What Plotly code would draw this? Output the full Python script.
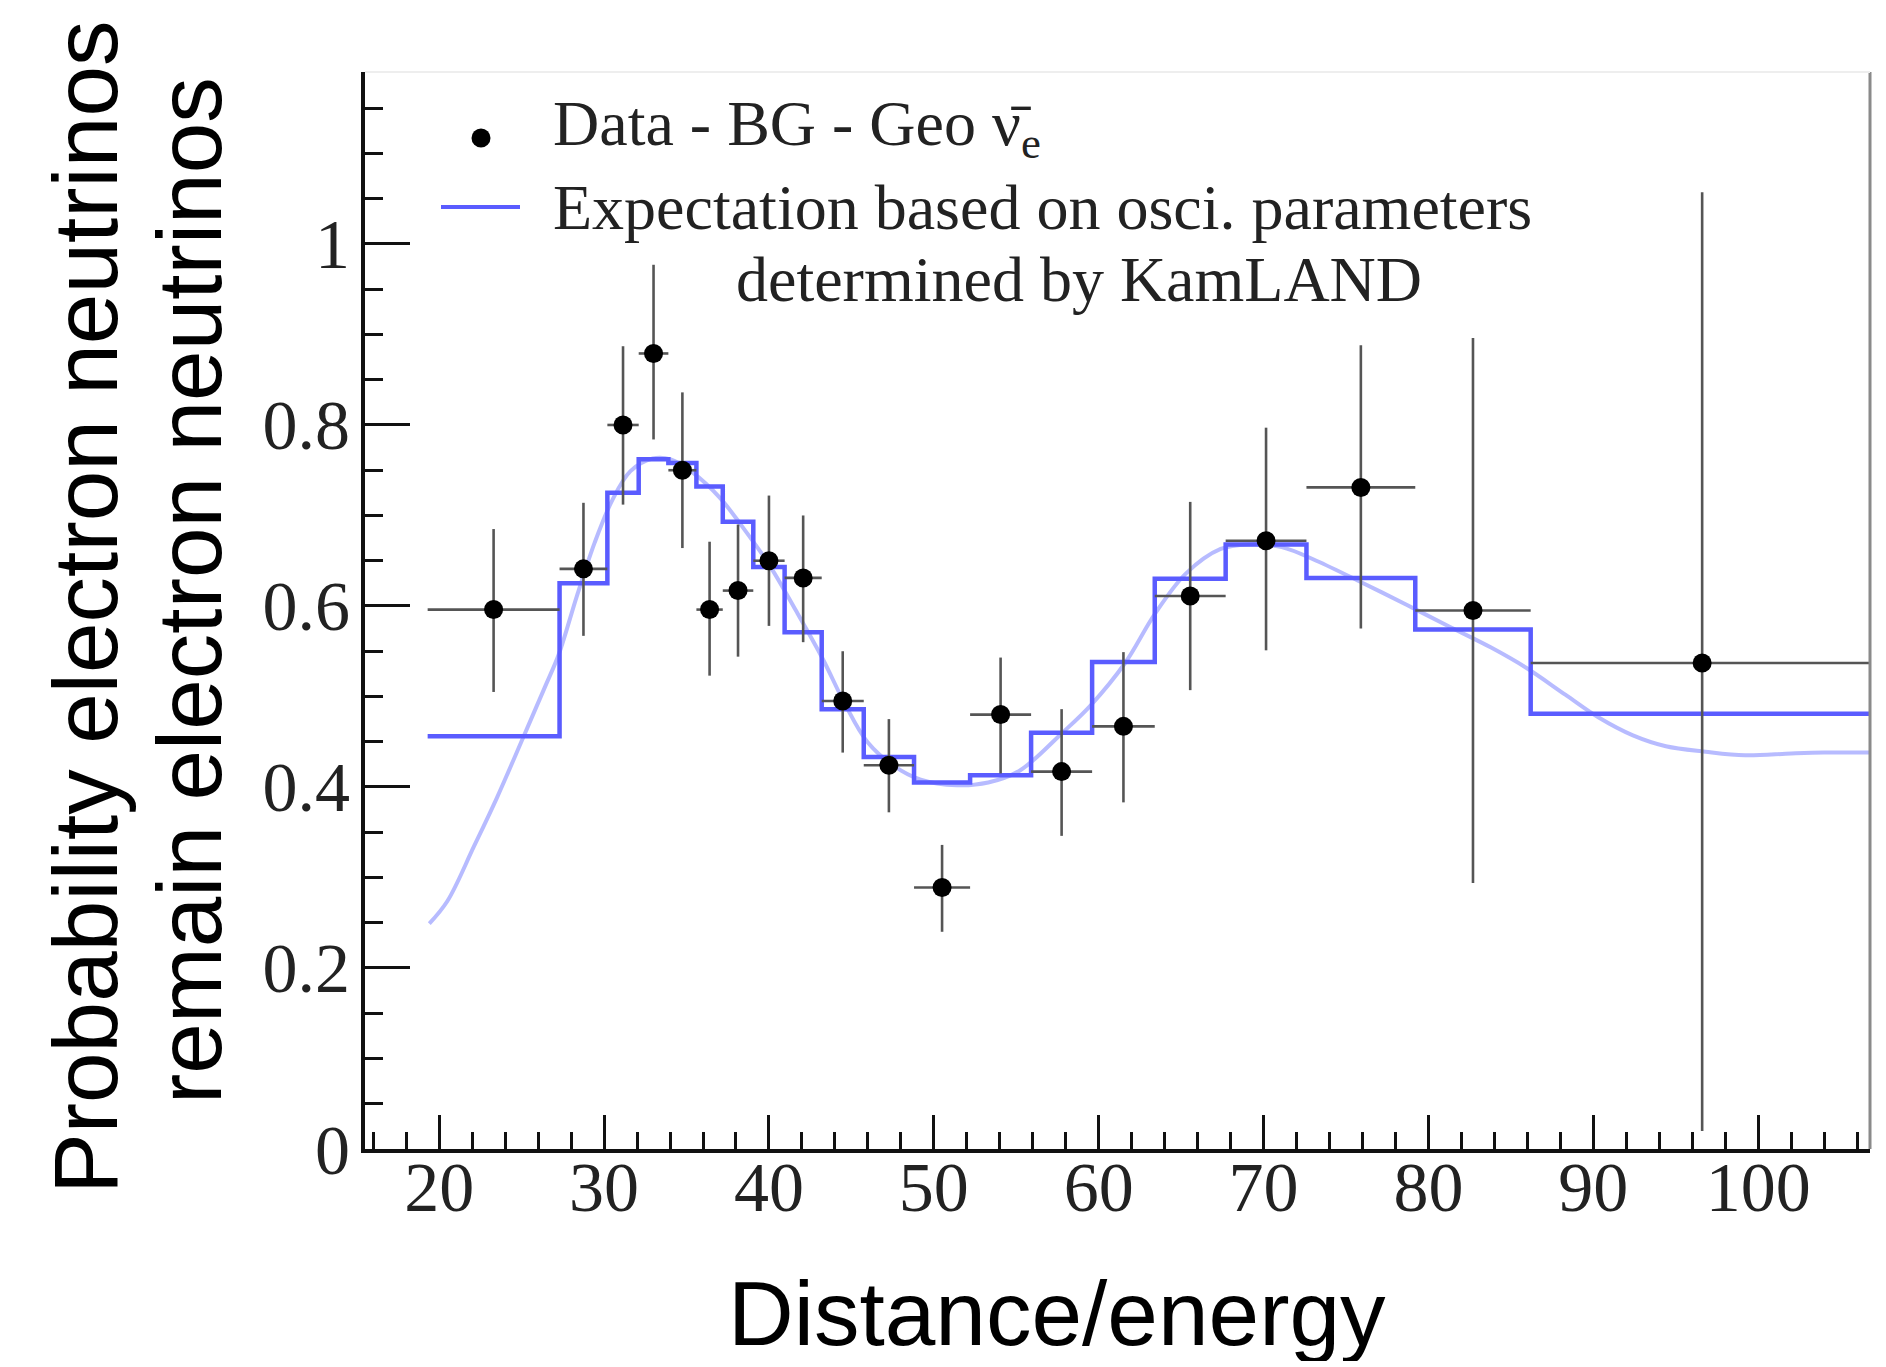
import plotly.graph_objects as go

# ---------------- data ----------------
bin_edges = [19.3, 27.3, 30.2, 32.1, 33.9, 35.6, 37.2, 39.05, 40.95, 43.2, 45.75,
             48.8, 52.2, 55.9, 59.6, 63.4, 67.7, 72.6, 79.2, 86.2, 107.0]
data_y = [0.596, 0.641, 0.800, 0.879, 0.750, 0.596, 0.617, 0.650, 0.631, 0.495,
          0.424, 0.289, 0.480, 0.417, 0.467, 0.611, 0.672, 0.731, 0.595, 0.537]
data_y_hi = [0.685, 0.714, 0.887, 0.977, 0.836, 0.671, 0.690, 0.722, 0.700, 0.550,
             0.475, 0.336, 0.543, 0.486, 0.549, 0.715, 0.797, 0.888, 0.896, 1.057]
data_y_lo = [0.505, 0.567, 0.712, 0.784, 0.664, 0.523, 0.544, 0.578, 0.560, 0.438,
             0.372, 0.240, 0.415, 0.346, 0.383, 0.507, 0.551, 0.575, 0.294, 0.020]
step_y = [0.456, 0.625, 0.725, 0.762, 0.758, 0.732, 0.693, 0.643, 0.571, 0.486,
          0.433, 0.405, 0.413, 0.460, 0.538, 0.630, 0.668, 0.631, 0.574, 0.481]
curve_x = [19.4, 20.5, 22.1, 23.5, 25.1, 26.45, 27.26, 28.35, 29.43, 30.5, 31.6, 32.95,
           34.04, 35.4, 37.0, 38.37, 40.0, 41.6, 43.25, 44.6, 45.96, 47.6, 49.2, 51.4,
           53.3, 55.2, 57.8, 59.5, 61.6, 63.4, 65.3, 67.4, 69.1, 71.1, 73.2, 75.95,
           78.7, 81.4, 83.8, 85.9, 88.3, 90.3, 92.4, 94.4, 96.8, 99.2, 102.0, 104.0, 106.8]
curve_y = [0.249, 0.274, 0.334, 0.388, 0.455, 0.512, 0.547, 0.611, 0.670, 0.717, 0.749, 0.763,
           0.762, 0.747, 0.720, 0.688, 0.646, 0.596, 0.542, 0.492, 0.450, 0.423, 0.408, 0.402,
           0.405, 0.418, 0.460, 0.490, 0.537, 0.591, 0.636, 0.663, 0.668, 0.665, 0.650, 0.626,
           0.601, 0.576, 0.554, 0.532, 0.502, 0.477, 0.457, 0.445, 0.439, 0.435, 0.437, 0.438, 0.438]
x_tick_vals = [20, 30, 40, 50, 60, 70, 80, 90, 100]
y_tick_vals = [0, 0.2, 0.4, 0.6, 0.8, 1.0]
y_tick_text = ["0", "0.2", "0.4", "0.6", "0.8", "1"]

legend_data = "Data - BG - Geo ν̄<sub>e</sub>"
legend_exp_1 = "Expectation based on osci. parameters"
legend_exp_2 = "determined by KamLAND"
ytitle_1 = "Probability electron neutrinos"
ytitle_2 = "remain electron neutrinos"
xtitle = "Distance/energy"

# derived
centers = [(a + b) / 2 for a, b in zip(bin_edges[:-1], bin_edges[1:])]
half_w = [(b - a) / 2 for a, b in zip(bin_edges[:-1], bin_edges[1:])]
err_up = [h - v for h, v in zip(data_y_hi, data_y)]
err_dn = [v - l for v, l in zip(data_y, data_y_lo)]

BLUE = "#5a5cff"
SERIF = "Liberation Serif"
SANS = "Liberation Sans"

fig = go.Figure()
fig.add_trace(go.Scatter(x=curve_x, y=curve_y, mode="lines", line_shape="spline",
                         line=dict(color="rgba(95,105,255,0.45)", width=4),
                         showlegend=False, hoverinfo="skip"))
fig.add_trace(go.Scatter(x=bin_edges, y=step_y + [step_y[-1]], mode="lines",
                         line=dict(color=BLUE, width=4.5, shape="hv"),
                         showlegend=False))
fig.add_trace(go.Scatter(x=centers, y=data_y, mode="markers",
                         marker=dict(color="black", size=19),
                         error_x=dict(type="data", array=half_w, color="#555", thickness=2.6, width=0),
                         error_y=dict(type="data", array=err_up, arrayminus=err_dn, symmetric=False,
                                      color="#555", thickness=2.6, width=0),
                         showlegend=False))

W, H = 1886, 1367
L, R, T, B = 365, 16, 72, 218

fig.update_layout(
    width=W, height=H,
    margin=dict(l=L, r=R, t=T, b=B),
    paper_bgcolor="white", plot_bgcolor="white",
    showlegend=False,
    xaxis=dict(range=[15.5, 106.78], tickvals=x_tick_vals, ticks="inside", ticklen=34,
               tickwidth=3, tickcolor="#111", showgrid=False, zeroline=False,
               showline=True, linecolor="#111", linewidth=4,
               tickfont=dict(family=SERIF, size=70, color="#222"),
               minor=dict(dtick=2, tick0=0, ticks="inside", ticklen=17, tickwidth=3, tickcolor="#111"),
               ticklabelstandoff=-26),
    yaxis=dict(range=[0, 1.19], tickvals=y_tick_vals, ticktext=y_tick_text, ticks="inside",
               ticklen=45, tickwidth=3, tickcolor="#111", showgrid=False, zeroline=False,
               showline=True, linecolor="#111", linewidth=4,
               tickfont=dict(family=SERIF, size=70, color="#222"),
               minor=dict(dtick=0.05, tick0=0, ticks="inside", ticklen=18, tickwidth=3, tickcolor="#111"),
               ticklabelstandoff=-3),
)

# frame: right and top
fig.add_shape(type="line", xref="paper", yref="paper", x0=1, x1=1, y0=0, y1=1,
              line=dict(color="#8a8a8a", width=3))
fig.add_shape(type="line", xref="paper", yref="paper", x0=0, x1=1, y0=1, y1=1,
              line=dict(color="#eeeeee", width=2))

pw, ph = W - L - R, H - T - B
def px(xp):
    return (xp - L) / pw
def py(yp):
    return (H - B - yp) / ph

# legend marker and line
fig.add_shape(type="circle", xref="paper", yref="paper", xsizemode="pixel", ysizemode="pixel",
              xanchor=px(481), yanchor=py(138), x0=-9.5, x1=9.5, y0=-9.5, y1=9.5,
              fillcolor="black", line=dict(color="black", width=0))
fig.add_shape(type="line", xref="paper", yref="paper", x0=px(441), x1=px(520), y0=py(207), y1=py(207),
              line=dict(color=BLUE, width=4))

leg_font = dict(family=SERIF, size=64, color="#222")
fig.add_annotation(text=legend_data, xref="paper", yref="paper", x=px(551), y=py(128),
                   xanchor="left", yanchor="middle", showarrow=False, font=leg_font)
fig.add_annotation(text=legend_exp_1, xref="paper", yref="paper", x=px(551), y=py(207),
                   xanchor="left", yanchor="middle", showarrow=False, font=leg_font)
fig.add_annotation(text=legend_exp_2, xref="paper", yref="paper", x=px(734), y=py(279),
                   xanchor="left", yanchor="middle", showarrow=False, font=leg_font)

# axis titles
title_font = dict(family=SANS, size=91, color="black")
fig.add_annotation(text=ytitle_1, xref="paper", yref="paper", x=px(85), y=py(607),
                   xanchor="center", yanchor="middle", textangle=-90, showarrow=False, font=title_font)
fig.add_annotation(text=ytitle_2, xref="paper", yref="paper", x=px(189), y=py(591),
                   xanchor="center", yanchor="middle", textangle=-90, showarrow=False, font=title_font)
fig.add_annotation(text=xtitle, xref="paper", yref="paper", x=px(1057), y=py(1313),
                   xanchor="center", yanchor="middle", height=96, showarrow=False, font=title_font)

fig.write_html("out.html")
